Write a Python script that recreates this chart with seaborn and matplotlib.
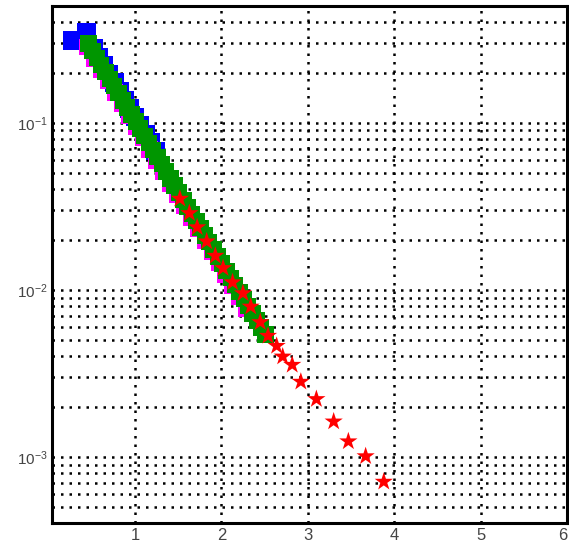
import numpy as np
import pandas as pd

import matplotlib

matplotlib.use("Agg")
import matplotlib.pyplot as plt  # noqa: E402
from matplotlib.ticker import FixedLocator, LogLocator, MultipleLocator, NullFormatter  # noqa: E402

import seaborn as sns  # noqa: E402

# --- data ---
blue_x = [0.27, 0.44, 0.52, 0.58, 0.64, 0.70, 0.76, 0.82, 0.88, 0.94, 1.00, 1.06, 1.12, 1.18, 1.24]
blue_y = [0.310, 0.346, 0.278, 0.247, 0.220, 0.195, 0.174, 0.154, 0.137, 0.122, 0.1085, 0.0965,
          0.0858, 0.0763, 0.0678]

magenta_x = [0.45, 0.53, 0.61, 0.69, 0.77, 0.85, 0.93, 1.01, 1.09, 1.17, 1.25, 1.33, 1.41, 1.49,
             1.57, 1.65, 1.73, 1.81, 1.89, 1.97, 2.05, 2.13, 2.21, 2.29]
magenta_y = [0.284, 0.243, 0.2075, 0.1774, 0.1517, 0.1297, 0.1109, 0.0948, 0.0811, 0.0693, 0.0593,
             0.0507, 0.0434, 0.0371, 0.0317, 0.0271, 0.0232, 0.0198, 0.0169, 0.0145, 0.0124, 0.0106,
             0.00906, 0.00774]

green_x = [0.46, 0.51, 0.56, 0.61, 0.66, 0.71, 0.76, 0.81, 0.86, 0.91, 0.96, 1.01, 1.06, 1.11,
           1.16, 1.21, 1.26, 1.31, 1.36, 1.41, 1.46, 1.51, 1.56, 1.61, 1.66, 1.71, 1.76, 1.81,
           1.86, 1.91, 1.96, 2.01, 2.06, 2.11, 2.16, 2.21, 2.26, 2.31, 2.36, 2.41, 2.46, 2.51]
green_y = [0.298, 0.270, 0.245, 0.222, 0.2016, 0.1828, 0.1658, 0.1503, 0.1363, 0.1236, 0.1121,
           0.1016, 0.0922, 0.0836, 0.0758, 0.0687, 0.0623, 0.0565, 0.0512, 0.0465, 0.0421, 0.0382,
           0.0346, 0.0314, 0.0285, 0.0258, 0.0234, 0.0212, 0.0193, 0.0175, 0.0158, 0.01436,
           0.01302, 0.0118, 0.0107, 0.0097, 0.0088, 0.00798, 0.00724, 0.00656, 0.00595, 0.0054]

red_x = [1.52, 1.63, 1.72, 1.83, 1.93, 2.02, 2.13, 2.25, 2.34, 2.45, 2.54, 2.64, 2.71, 2.82,
         2.92, 3.10, 3.30, 3.47, 3.67, 3.88]
red_y = [0.0351, 0.0288, 0.0237, 0.0195, 0.0160, 0.0135, 0.0111, 0.00955, 0.00794, 0.00641,
         0.00531, 0.00462, 0.00399, 0.00356, 0.00282, 0.00222, 0.00163, 0.00124, 0.00101, 0.000711]

x_ticks = [1, 2, 3, 4, 5, 6]
y_major = [1e-3, 1e-2, 1e-1]
y_labels = [r"$10^{-3}$", r"$10^{-2}$", r"$10^{-1}$"]


def main() -> None:
    sns.set_style("white")
    plt.rcParams["font.family"] = ["Liberation Sans", "DejaVu Sans"]
    plt.rcParams["mathtext.fontset"] = "custom"
    plt.rcParams["mathtext.rm"] = "Liberation Sans"
    plt.rcParams["mathtext.it"] = "Liberation Sans"

    fig = plt.figure(figsize=(5.69, 5.47), dpi=100)
    ax = fig.add_axes([0.0914, 0.043, 0.905, 0.946])

    # blue, magenta, green squares, red stars on top
    series = [
        (blue_x, blue_y, "#0000ff", "s", 180),
        (magenta_x, magenta_y, "#ff00ff", "s", 140),
        (green_x, green_y, "#009600", "s", 140),
        (red_x, red_y, "#ff0000", "*", 190),
    ]
    for i, (xs, ys, color, marker, size) in enumerate(series):
        df = pd.DataFrame({"x": xs, "y": ys})
        sns.scatterplot(data=df, x="x", y="y", ax=ax, color=color, marker=marker, s=size,
                        linewidth=0, edgecolor="none", zorder=3 + i)

    ax.set_yscale("log")
    ax.set_xlim(0.04, 6.0)
    ax.set_ylim(4e-4, 0.5)

    ax.xaxis.set_major_locator(FixedLocator(x_ticks))
    ax.xaxis.set_minor_locator(MultipleLocator(0.2))
    ax.set_xticklabels([str(t) for t in x_ticks])

    ax.yaxis.set_major_locator(FixedLocator(y_major))
    ax.set_yticklabels(y_labels)
    ax.yaxis.set_minor_locator(LogLocator(base=10, subs=np.arange(2, 10), numticks=20))
    ax.yaxis.set_minor_formatter(NullFormatter())

    grid_kw = dict(color="black", linestyle=(0, (1, 2.4)), linewidth=1.8, zorder=1)
    ax.grid(True, which="major", axis="x", **grid_kw)
    ax.grid(True, which="both", axis="y", **grid_kw)
    ax.set_axisbelow(True)

    ax.tick_params(axis="both", which="both", direction="in", color="black", width=1.8,
                   top=False, right=False)
    ax.tick_params(axis="both", which="major", length=13)
    ax.tick_params(axis="both", which="minor", length=7)
    ax.tick_params(axis="x", which="major", labelsize=12, pad=3, labelcolor="#444444")
    ax.tick_params(axis="y", which="major", labelsize=11, pad=3, labelcolor="#444444")
    # the last x label sits on the right edge; keep it inside the picture
    ax.get_xticklabels()[-1].set_horizontalalignment("right")

    for spine in ax.spines.values():
        spine.set_visible(True)
        spine.set_color("black")
        spine.set_linewidth(2.2)

    ax.set_xlabel("")
    ax.set_ylabel("")

    fig.savefig("out.png", dpi=100)
    plt.close(fig)


if __name__ == "__main__":
    main()
